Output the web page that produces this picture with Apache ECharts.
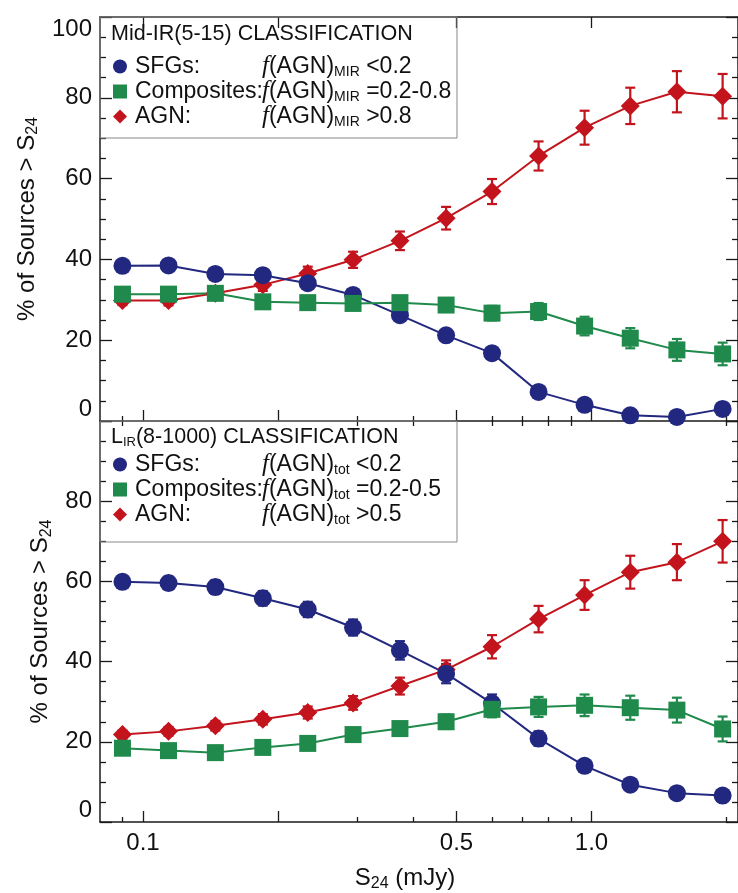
<!DOCTYPE html>
<html>
<head>
<meta charset="utf-8">
<script src="https://cdn.jsdelivr.net/npm/echarts@6/dist/echarts.min.js"></script>
<style>
html,body{margin:0;padding:0;background:#fff;}
#chart{width:738px;height:893px;}
</style>
</head>
<body>
<div id="chart"></div>
<script>
// S24 bins (mJy), log-spaced
const s24 = [0.090, 0.114, 0.145, 0.185, 0.233, 0.294, 0.374, 0.474, 0.600, 0.762, 0.965, 1.22, 1.55, 1.96];

// top panel: Mid-IR(5-15) classification
const sfgMir     = [38.4, 38.5, 36.4, 36.1, 34.1, 31.2, 26.2, 21.2, 16.8, 7.2, 4.0, 1.4, 1.0, 3.0];
const sfgMirErr  = [1.2, 1.3, 1.3, 1.4, 1.4, 1.4, 1.4, 1.4, 1.5, 1.2, 1.2, 0.8, 0.8, 1.5];
const compMir    = [31.4, 31.4, 31.6, 29.5, 29.3, 29.1, 29.3, 28.7, 26.7, 27.1, 23.5, 20.5, 17.6, 16.6];
const compMirErr = [1.2, 1.2, 1.3, 1.3, 1.3, 1.4, 1.5, 1.7, 1.8, 2.1, 2.3, 2.5, 2.7, 2.8];
const agnMir     = [29.8, 29.8, 31.6, 33.7, 36.5, 39.9, 44.6, 50.2, 56.8, 65.6, 72.6, 78.0, 81.5, 80.4];
const agnMirErr  = [1.1, 1.2, 1.3, 1.5, 1.7, 2.0, 2.3, 2.8, 3.1, 3.6, 4.2, 4.5, 5.1, 5.5];

// bottom panel: L_IR(8-1000) classification
const sfgTot     = [59.9, 59.6, 58.6, 55.8, 53.0, 48.5, 42.8, 37.0, 29.6, 20.8, 14.0, 9.3, 7.2, 6.6];
const sfgTotErr  = [1.5, 1.6, 1.7, 1.8, 1.9, 2.0, 2.3, 2.4, 2.2, 1.8, 1.4, 1.0, 0.9, 0.9];
const compTot    = [18.4, 17.8, 17.3, 18.6, 19.6, 21.8, 23.3, 25.0, 28.1, 28.7, 29.1, 28.5, 27.9, 23.2];
const compTotErr = [1.1, 1.1, 1.2, 1.3, 1.4, 1.5, 1.6, 1.8, 2.0, 2.5, 2.7, 3.0, 3.1, 3.1];
const agnTot     = [21.8, 22.6, 24.0, 25.6, 27.3, 29.7, 33.9, 38.0, 43.7, 50.6, 56.6, 62.3, 64.8, 70.0];
const agnTotErr  = [1.0, 1.1, 1.2, 1.3, 1.5, 1.7, 2.1, 2.3, 2.9, 3.3, 3.7, 4.1, 4.5, 5.3];

// axis ticks (mJy)
const xMajorTicks = [0.1, 0.2, 0.5, 1.0];
const xMinorTicks = [0.09, 0.3, 0.4, 0.6, 0.7, 0.8, 0.9, 2.0];
const xLabelTicks = [0.1, 0.5, 1.0];
const xRange = [0.0802, 2.121];

const BLUE = '#22287f', GREEN = '#1f8a4b', RED = '#c3141d';
const FONT = '"Liberation Sans", Arial, Helvetica, sans-serif';
const lg = v => Math.log10(v);

const chart = echarts.init(document.getElementById('chart'), null, {renderer: 'canvas'});

function xAx(grid, pos, ticks, len, opts) {
  return Object.assign({
    type: 'value', gridIndex: grid, position: pos,
    min: lg(xRange[0]), max: lg(xRange[1]),
    axisLine: {show: true, onZero: false, lineStyle: {color: '#1a1a1a', width: 1.5}},
    axisTick: {show: true, inside: true, length: len, customValues: ticks.map(lg), lineStyle: {color: '#1a1a1a', width: 1.3}},
    axisLabel: {show: false},
    splitLine: {show: false}
  }, opts || {});
}
function yAx(grid, pos, labels, opts) {
  return Object.assign({
    type: 'value', gridIndex: grid, position: pos, min: 0, max: 100, interval: 20,
    axisLine: {show: true, onZero: false, lineStyle: {color: '#1a1a1a', width: 1.5}},
    axisTick: {show: true, inside: true, length: 12, lineStyle: {color: '#1a1a1a', width: 1.3}},
    minorTick: {show: true, splitNumber: 4, length: 6, lineStyle: {color: '#1a1a1a', width: 1.3}},
    axisLabel: {show: labels, color: '#111', fontSize: 24, fontFamily: FONT, margin: 8},
    splitLine: {show: false}
  }, opts || {});
}

const yName = {
  name: '{m|% of Sources > S}{s|24}',
  nameLocation: 'middle',
  nameTextStyle: {
    rich: {
      m: {fontSize: 24, fontFamily: FONT, color: '#111', lineHeight: 28},
      s: {fontSize: 16, fontFamily: FONT, color: '#111', lineHeight: 14, verticalAlign: 'bottom'}
    }
  }
};

function pts(y, e) {
  return s24.map((s, i) => e ? [lg(s), y[i], e[i]] : [lg(s), y[i]]);
}
function errSeries(xi, yi, y, e, color) {
  return {
    type: 'custom', xAxisIndex: xi, yAxisIndex: yi,
    data: pts(y, e),
    encode: {x: 0, y: 1},
    silent: true,
    renderItem: function (params, api) {
      const x = api.value(0), v = api.value(1), d = api.value(2);
      const hi = api.coord([x, v + d]), lo = api.coord([x, v - d]);
      const w = 5;
      const st = {stroke: color, lineWidth: 2.2};
      return {type: 'group', children: [
        {type: 'line', shape: {x1: hi[0], y1: hi[1], x2: lo[0], y2: lo[1]}, style: st},
        {type: 'line', shape: {x1: hi[0] - w, y1: hi[1], x2: hi[0] + w, y2: hi[1]}, style: st},
        {type: 'line', shape: {x1: lo[0] - w, y1: lo[1], x2: lo[0] + w, y2: lo[1]}, style: st}
      ]};
    }
  };
}
function lineSeries(name, xi, yi, y, color, symbol, size) {
  return {
    name: name, type: 'line', xAxisIndex: xi, yAxisIndex: yi,
    data: pts(y), symbol: symbol, symbolSize: size, showSymbol: true,
    lineStyle: {color: color, width: 2},
    itemStyle: {color: color, borderWidth: 0},
    emphasis: {disabled: true}, animation: false
  };
}

const legendRich = {
  n: {fontSize: 23, fontFamily: FONT, color: '#111', width: 127, lineHeight: 25, padding: [0, 0, 0, 3]},
  f: {fontSize: 25, fontFamily: '"Liberation Serif", serif', fontStyle: 'italic', color: '#111', lineHeight: 25},
  a: {fontSize: 23, fontFamily: FONT, color: '#111', lineHeight: 25},
  s: {fontSize: 14, fontFamily: FONT, color: '#111', lineHeight: 13, verticalAlign: 'bottom'},
  v: {fontSize: 23, fontFamily: FONT, color: '#111', lineHeight: 25}
};
const legendText = {
  'SFGs MIR':  '{n|SFGs:}{f|f}{a|(AGN)}{s|MIR}{v| <0.2}',
  'Comp MIR':  '{n|Composites:}{f|f}{a|(AGN)}{s|MIR}{v| =0.2-0.8}',
  'AGN MIR':   '{n|AGN:}{f|f}{a|(AGN)}{s|MIR}{v| >0.8}',
  'SFGs tot':  '{n|SFGs:}{f|f}{a|(AGN)}{s|tot}{v| <0.2}',
  'Comp tot':  '{n|Composites:}{f|f}{a|(AGN)}{s|tot}{v| =0.2-0.5}',
  'AGN tot':   '{n|AGN:}{f|f}{a|(AGN)}{s|tot}{v| >0.5}'
};
function legend(names, top) {
  return {
    orient: 'vertical', left: 113, top: top, padding: 0, itemGap: 0,
    itemWidth: 14, itemHeight: 14, selectedMode: false,
    data: [
      {name: names[0], icon: 'circle'},
      {name: names[1], icon: 'rect'},
      {name: names[2], icon: 'diamond'}
    ],
    formatter: n => legendText[n],
    textStyle: {rich: legendRich, lineHeight: 25}
  };
}

const option = {
  backgroundColor: '#fff',
  animation: false,
  grid: [
    {left: 100, top: 17, width: 640, height: 404},
    {left: 100, top: 421, width: 640, height: 403}
  ],
  title: [
    {text: 'Mid-IR(5-15) CLASSIFICATION', left: 111, top: 23, padding: 0,
     textStyle: {fontSize: 21.5, fontWeight: 'normal', fontFamily: FONT, color: '#111'}},
    {text: '{m|L}{s|IR}{m|(8-1000) CLASSIFICATION}', left: 111, top: 425, padding: 0,
     textStyle: {fontWeight: 'normal', rich: {
       m: {fontSize: 21.5, fontWeight: 'normal', fontFamily: FONT, color: '#111', lineHeight: 24},
       s: {fontSize: 13, fontWeight: 'normal', fontFamily: FONT, color: '#111', lineHeight: 12, verticalAlign: 'bottom'}
     }}}
  ],
  legend: [
    legend(['SFGs MIR', 'Comp MIR', 'AGN MIR'], 54),
    legend(['SFGs tot', 'Comp tot', 'AGN tot'], 452)
  ],
  graphic: [
    {type: 'rect', shape: {x: 100, y: 17, width: 357, height: 121}, style: {fill: 'none', stroke: '#888', lineWidth: 1}, z: 1},
    {type: 'rect', shape: {x: 100, y: 421, width: 357, height: 121}, style: {fill: 'none', stroke: '#888', lineWidth: 1}, z: 1}
  ],
  xAxis: [
    xAx(0, 'bottom', xMajorTicks, 11),
    xAx(0, 'bottom', xMinorTicks, 5, {axisLine: {show: false}}),
    xAx(0, 'top', xMajorTicks, 11),
    xAx(0, 'top', xMinorTicks, 5, {axisLine: {show: false}}),
    xAx(1, 'bottom', xMajorTicks, 11, {
      axisLabel: {show: true, customValues: xLabelTicks.map(lg), color: '#111', fontSize: 24, fontFamily: FONT, margin: 9,
                  formatter: v => Math.pow(10, v).toFixed(1)},
      name: '{m|S}{s|24}{m| (mJy)}', nameLocation: 'middle', nameGap: 42,
      nameTextStyle: {padding: [0, 28, 0, 0], rich: {
        m: {fontSize: 24, fontFamily: FONT, color: '#111', lineHeight: 28},
        s: {fontSize: 16, fontFamily: FONT, color: '#111', lineHeight: 14, verticalAlign: 'bottom'}
      }}
    }),
    xAx(1, 'bottom', xMinorTicks, 5, {axisLine: {show: false}})
  ],
  yAxis: [
    yAx(0, 'left', true, Object.assign({nameGap: 59, axisLabel: {show: true, color: '#111', fontSize: 24, fontFamily: FONT, margin: 8,
        verticalAlignMinLabel: 'bottom', verticalAlignMaxLabel: 'top'}}, yName)),
    yAx(0, 'right', false),
    yAx(1, 'left', true, Object.assign({nameGap: 44, axisLabel: {show: true, color: '#111', fontSize: 24, fontFamily: FONT, margin: 8,
        showMaxLabel: false, verticalAlignMinLabel: 'bottom'}}, yName)),
    yAx(1, 'right', false)
  ],
  series: [
    errSeries(0, 0, agnMir, agnMirErr, RED),
    errSeries(0, 0, sfgMir, sfgMirErr, BLUE),
    errSeries(0, 0, compMir, compMirErr, GREEN),
    lineSeries('AGN MIR', 0, 0, agnMir, RED, 'diamond', 19),
    lineSeries('SFGs MIR', 0, 0, sfgMir, BLUE, 'circle', 18),
    lineSeries('Comp MIR', 0, 0, compMir, GREEN, 'rect', 17),

    errSeries(4, 2, agnTot, agnTotErr, RED),
    errSeries(4, 2, sfgTot, sfgTotErr, BLUE),
    errSeries(4, 2, compTot, compTotErr, GREEN),
    lineSeries('AGN tot', 4, 2, agnTot, RED, 'diamond', 19),
    lineSeries('SFGs tot', 4, 2, sfgTot, BLUE, 'circle', 18),
    lineSeries('Comp tot', 4, 2, compTot, GREEN, 'rect', 17)
  ]
};
chart.setOption(option);
</script>
</body>
</html>
